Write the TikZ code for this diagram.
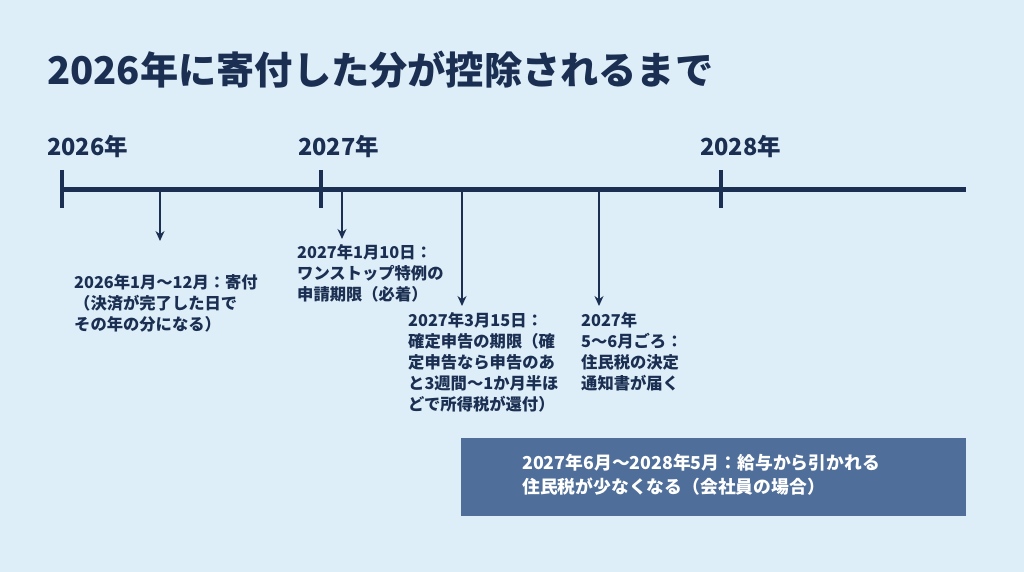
\documentclass[tikz,border=0pt]{standalone}
\usepackage{fontspec}
\setmainfont{Noto Sans CJK JP}
\usetikzlibrary{arrows.meta}
\definecolor{bg}{HTML}{DDEEF8}
\definecolor{navy}{HTML}{1B2F52}
\definecolor{boxc}{HTML}{4F6E99}
\begin{document}
\begin{tikzpicture}[x=1pt,y=-1pt,
  yr/.style={anchor=west,font=\fontsize{23.5}{23.5}\selectfont\bfseries,text=navy},
  lbl/.style={anchor=north west,align=left,font=\fontsize{16.3}{21}\selectfont\bfseries,text=navy,inner sep=0pt},
  tick/.style={line width=4pt,navy},
  arr/.style={-{Stealth[length=10pt,width=9pt]},line width=1.3pt,navy}]
\fill[bg] (0,0) rectangle (1024,572);
\useasboundingbox (0,0) rectangle (1024,572);
\node[anchor=west,font=\fontsize{38.2}{38.2}\selectfont\bfseries,text=navy,inner sep=0pt] (title) at (47,70) {2026年に寄付した分が控除されるまで};
\node[yr,inner sep=0pt] (y1) at (47,147) {2026年};
\node[yr,inner sep=0pt] (y2) at (298,147) {2027年};
\node[yr,inner sep=0pt] (y3) at (700,147) {2028年};
\coordinate (ls) at (60,189);
\coordinate (le) at (966,189);
\draw[line width=5pt,navy] (ls) -- (le);
\coordinate (t1a) at (62,170); \coordinate (t1b) at (62,208);
\coordinate (t2a) at (321,170); \coordinate (t2b) at (321,208);
\coordinate (t3a) at (721,170); \coordinate (t3b) at (721,208);
\draw[tick] (t1a) -- (t1b);
\draw[tick] (t2a) -- (t2b);
\draw[tick] (t3a) -- (t3b);
\coordinate (a1) at (160,192); \coordinate (a1e) at (160,241);
\coordinate (a2) at (342,192); \coordinate (a2e) at (342,239);
\coordinate (a3) at (462,192); \coordinate (a3e) at (462,306);
\coordinate (a4) at (599,192); \coordinate (a4e) at (599,306);
\draw[arr] (a1) -- (a1e);
\draw[arr] (a2) -- (a2e);
\draw[arr] (a3) -- (a3e);
\draw[arr] (a4) -- (a4e);
\node[lbl] (n1) at (74,274) {2026年1月〜12月：寄付\\（決済が完了した日で\\その年の分になる）};
\node[lbl] (n2) at (297,244) {2027年1月10日：\\ワンストップ特例の\\申請期限（必着）};
\node[lbl] (n3) at (408,312) {2027年3月15日：\\確定申告の期限（確\\定申告なら申告のあ\\と3週間〜1か月半ほ\\どで所得税が還付）};
\node[lbl] (n4) at (581,312) {2027年\\5〜6月ごろ：\\住民税の決定\\通知書が届く};
\fill[boxc] (461,438) rectangle (966,516);
\node[anchor=north west,align=left,text=white,font=\fontsize{17.8}{24}\selectfont\bfseries,inner sep=0pt] (bx) at (522,454) {2027年6月〜2028年5月：給与から引かれる\\住民税が少なくなる（会社員の場合）};
\end{tikzpicture}
\end{document}
